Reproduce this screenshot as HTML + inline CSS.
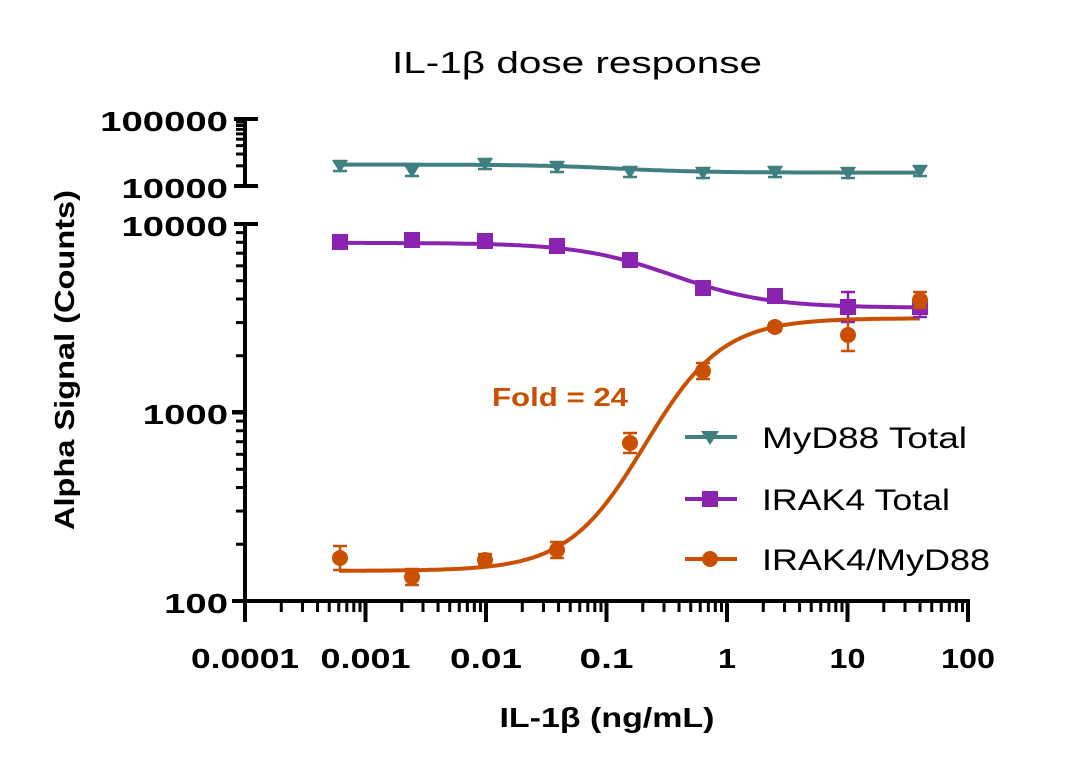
<!DOCTYPE html><html><head><style>body{margin:0;background:#fff}svg{font-family:"Liberation Sans",sans-serif}</style></head><body>
<svg id="s" width="1080" height="770" xmlns="http://www.w3.org/2000/svg">
<text x="577" y="73" font-size="31" text-anchor="middle" textLength="370" lengthAdjust="spacingAndGlyphs">IL-1β dose response</text>
<text transform="translate(74,360) rotate(-90)" font-size="28" font-weight="bold" text-anchor="middle" textLength="340" lengthAdjust="spacingAndGlyphs">Alpha Signal (Counts)</text>
<text x="607" y="727" font-size="28" font-weight="bold" text-anchor="middle" textLength="215" lengthAdjust="spacingAndGlyphs">IL-1β (ng/mL)</text>
<text x="560" y="406" font-size="26" font-weight="bold" fill="#c85000" text-anchor="middle" textLength="136" lengthAdjust="spacingAndGlyphs">Fold = 24</text>
<g id="g"></g>
</svg>
<script>
const g=document.getElementById('g');let h='';
const X=l=>245+(l+4)*120.5, YL=l=>601-(l-2)*188.5, YU=l=>186-(l-4)*67;
const ln=(a,b,c,d,w,col)=>h+=`<line x1="${a}" y1="${b}" x2="${c}" y2="${d}" stroke="${col||'#000'}" stroke-width="${w||4}"/>`;
ln(245,224,245,602);ln(245,118,245,188);ln(243,601,970,601);
ln(234,186,258,186);ln(234,224,258,224);ln(234,119,258,119);
for(let d=2;d<4;d++){for(let k=1;k<10;k++){let v=d+Math.log10(k);let y=YL(v);ln(k==1?232:236,y,245,y,k==1?4:3)}}
ln(232,601,245,601);ln(232,412,245,412);
for(let k=2;k<10;k++){ln(236,YU(4+Math.log10(k)),245,YU(4+Math.log10(k)),3)}
for(let d=-4;d<=2;d++){let x=X(d);ln(x,599,x,622);if(d<2)for(let k=2;k<10;k++){let xx=X(d+Math.log10(k));ln(xx,599,xx,612,3)}}
const lab=["0.0001","0.001","0.01","0.1","1","10","100"];
lab.forEach((t,i)=>h+=`<text x="${X(i-4)}" y="668" font-size="28" font-weight="bold" text-anchor="middle" textLength="${t.length*18}" lengthAdjust="spacingAndGlyphs">${t}</text>`);
[["100",613],["1000",424],["10000",236],["10000",198],["100000",131]].forEach(a=>h+=`<text x="228" y="${a[1]}" font-size="28" font-weight="bold" text-anchor="end" textLength="${a[0].length*21.3}" lengthAdjust="spacingAndGlyphs">${a[0]}</text>`);
function curve(b,t,ec,hl,Y,col){let p='';for(let l=-3.22;l<=1.61;l+=0.02){let v=b+(t-b)/(1+Math.pow(10,(ec-l)*hl));p+=(p?'L':'M')+X(l).toFixed(1)+','+Y(v).toFixed(1)}h+=`<path d="${p}" fill="none" stroke="${col}" stroke-width="4"/>`}
const xs=[340,412,485,557,630,703,775,848,920];
const T='#3f7f80',P='#8a24b0',O='#c85000';
curve(4.32,4.2,-0.9,1.2,YU,T);
curve(3.9,3.556,-0.45,1.1,YL,P);
curve(2.16,3.5,-0.68,1.35,YL,O);
const my=[166,171,164,167,172,173,172,173,171],ir=[242,240,241,246,260,288,296,307,307],ra=[558,577,560,550,443,371,327,335,300];
const eb=(x,y,e,c)=>{ln(x,y-e,x,y+e,2.5,c);ln(x-7,y-e,x+7,y-e,2.5,c);ln(x-7,y+e,x+7,y+e,2.5,c)};
xs.forEach((x,i)=>{eb(x,my[i],5,T);h+=`<path d="M${x-8},${my[i]-6}L${x+8},${my[i]-6}L${x},${my[i]+7}Z" fill="${T}"/>`;
eb(x,ir[i],i==7?15:(i==8?10:5),P);h+=`<rect x="${x-8}" y="${ir[i]-8}" width="16" height="16" fill="${P}"/>`;
eb(x,ra[i],[12,8,6,8,10,8,4,16,8][i],O);h+=`<circle cx="${x}" cy="${ra[i]}" r="8" fill="${O}"/>`});
[[437,T,"MyD88 Total","t",205],[499,P,"IRAK4 Total","s",188],[559,O,"IRAK4/MyD88","c",228]].forEach(a=>{ln(685,a[0],737,a[0],4,a[1]);
let m=a[3]=='t'?`<path d="M701,${a[0]-6}L719,${a[0]-6}L710,${a[0]+8}Z" fill="${a[1]}"/>`:a[3]=='s'?`<rect x="702" y="${a[0]-8}" width="16" height="16" fill="${a[1]}"/>`:`<circle cx="710" cy="${a[0]}" r="8" fill="${a[1]}"/>`;
h+=m+`<text x="762" y="${a[0]+11}" font-size="30" textLength="${a[4]}" lengthAdjust="spacingAndGlyphs">${a[2]}</text>`});
g.innerHTML=h;
</script></body></html>
